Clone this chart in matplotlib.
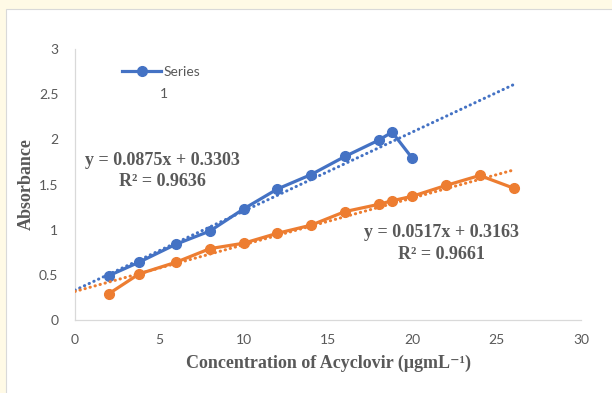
import matplotlib
matplotlib.use("Agg")
from matplotlib import pyplot as plt
from matplotlib.patches import Rectangle
import numpy as np

# data
x_blue = [2, 3.8, 6, 8, 10, 12, 14, 16, 18, 18.8, 20]
y_blue = [0.49, 0.64, 0.84, 0.985, 1.23, 1.45, 1.61, 1.81, 1.99, 2.08, 1.79]

x_orange = [2, 3.8, 6, 8, 10, 12, 14, 16, 18, 18.8, 20, 22, 24, 26]
y_orange = [0.29, 0.51, 0.64, 0.79, 0.85, 0.96, 1.05, 1.20, 1.28, 1.32, 1.37, 1.49, 1.60, 1.46]

# trendline equations shown on the chart
blue_fit = (0.0875, 0.3303, 0.9636)
orange_fit = (0.0517, 0.3163, 0.9661)
trend_range = [0, 26]

x_ticks = [0, 5, 10, 15, 20, 25, 30]
y_ticks = [0, 0.5, 1, 1.5, 2, 2.5, 3]
y_tick_labels = ["0", "0.5", "1", "1.5", "2", "2.5", "3"]

BLUE = "#4472C4"
ORANGE = "#ED7D31"
GREY = "#595959"
TICKFONT = "Lato"
SERIF = "Liberation Serif"

fig = plt.figure(figsize=(6.12, 3.93), dpi=100, facecolor="#FFFAE6")
fig.patches.append(Rectangle((6 / 612, -0.05), 1.0, (393 - 9) / 393 + 0.05,
                             transform=fig.transFigure, facecolor="white",
                             edgecolor="#D9D9D9", linewidth=0.8, zorder=-5))

ax = fig.add_axes([75 / 612, 73 / 393, 506 / 612, 271 / 393])
ax.set_facecolor("none")

ax.plot(x_blue, y_blue, color=BLUE, lw=2.3, marker="o", ms=7, label="Series", zorder=3)
ax.plot(x_orange, y_orange, color=ORANGE, lw=2.3, marker="o", ms=7, zorder=3)

tx = np.array(trend_range, dtype=float)
dots = (0, (0.1, 1.6))
ax.plot(tx, blue_fit[0] * tx + blue_fit[1], color=BLUE, lw=2.2, ls=dots,
        dash_capstyle="round", zorder=4)
ax.plot(tx, orange_fit[0] * tx + orange_fit[1], color=ORANGE, lw=2.2, ls=dots,
        dash_capstyle="round", zorder=4)

ax.set_xlim(0, 30)
ax.set_ylim(0, 3)
ax.set_xticks(x_ticks)
ax.set_yticks(y_ticks)
ax.set_yticklabels(y_tick_labels)
ax.tick_params(length=0, labelsize=10, labelcolor=GREY)
ax.tick_params(axis="x", pad=10)
ax.tick_params(axis="y", pad=12)
for lab in ax.get_xticklabels() + ax.get_yticklabels():
    lab.set_family(TICKFONT)

for s in ["top", "right"]:
    ax.spines[s].set_visible(False)
for s in ["left", "bottom"]:
    ax.spines[s].set_color("#D9D9D9")
    ax.spines[s].set_linewidth(0.9)

ax.set_xlabel("Concentration of Acyclovir (μgmL⁻¹)", family=[SERIF, "DejaVu Serif"],
              fontweight="bold", fontsize=13, color=GREY, labelpad=6)
ax.set_ylabel("Absorbance", family=SERIF, fontweight="bold", fontsize=13,
              color=GREY, labelpad=3)

# equations
eq_style = dict(family=SERIF, fontweight="bold", fontsize=13, color=GREY,
                ha="center", va="center")
ax.text(5.2, 1.77, "y = %.4fx + %.4f" % blue_fit[:2], **eq_style)
ax.text(5.2, 1.53, "R² = %.4f" % blue_fit[2], **eq_style)
ax.text(21.7, 0.965, "y = %.4fx + %.4f" % orange_fit[:2], **eq_style)
ax.text(21.7, 0.73, "R² = %.4f" % orange_fit[2], **eq_style)

leg = ax.legend(loc="center left", bbox_to_anchor=(0.093, 0.915), frameon=False,
                borderpad=0, borderaxespad=0, handlelength=2.8, handletextpad=0.2,
                prop={"family": TICKFONT, "size": 10})
for t in leg.get_texts():
    t.set_color(GREY)
ax.text(0.168, 0.834, "1", transform=ax.transAxes, family=TICKFONT, fontsize=10,
        color=GREY, ha="left", va="center")

fig.savefig("out.png", dpi=100, facecolor=fig.get_facecolor())
